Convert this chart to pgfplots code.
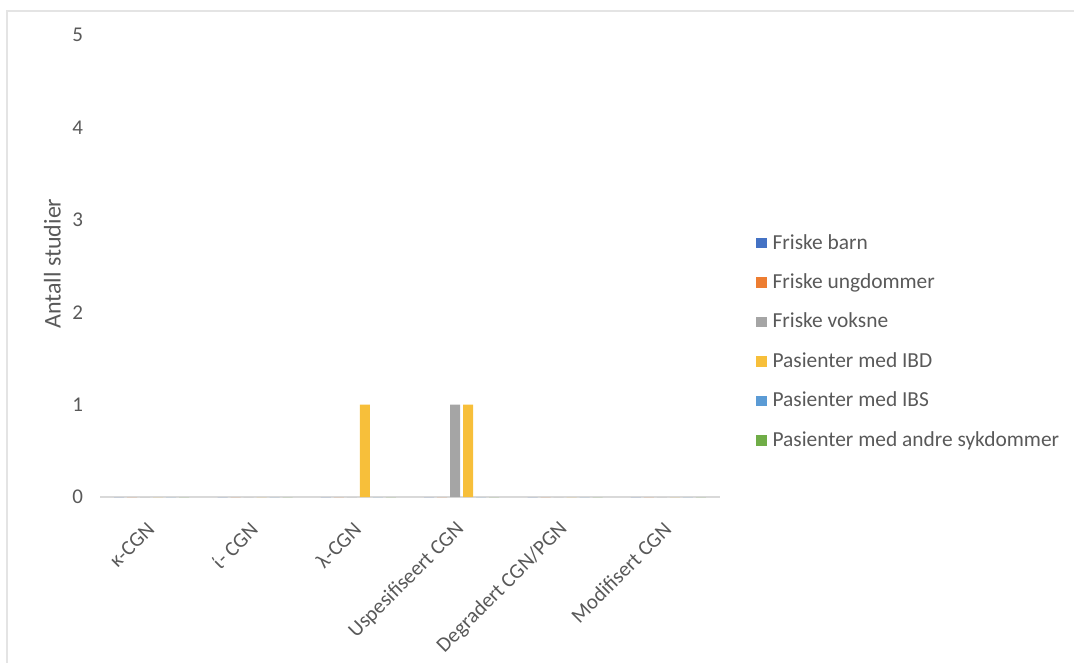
\documentclass[border=0pt]{standalone}
\usepackage{fontspec}
\setmainfont{Carlito}
\usepackage{pgfplots}
\pgfplotsset{compat=1.18}

\definecolor{txtgray}{HTML}{595959}
\definecolor{axgray}{HTML}{D9D9D9}
\definecolor{cBarn}{HTML}{4472C4}
\definecolor{cUngd}{HTML}{ED7D31}
\definecolor{cVoks}{HTML}{A5A5A5}
\definecolor{cIBD}{HTML}{F7BF3A}
\definecolor{cIBS}{HTML}{5B9BD5}
\definecolor{cAndre}{HTML}{70AD47}

\pgfplotsset{
  sqlegend/.style={legend image code/.code={\fill[##1] (0pt,-2.6pt) rectangle (5.2pt,2.6pt);}},
}

\begin{document}
\begin{tikzpicture}
\useasboundingbox (0,0) rectangle (537pt,331.5pt);
\draw[axgray!70, line width=0.6pt] (3.5pt,0) |- (537pt,326pt);
\begin{axis}[
  at={(50pt,83pt)}, anchor=south west,
  scale only axis, width=310pt, height=231pt,
  ymin=0, ymax=5, ytick={0,1,2,3,4,5},
  xmin=-0.5, xmax=5.5,
  xtick={0,1,2,3,4,5},
  xticklabels={κ-CGN, ί- CGN, λ-CGN, Uspesifiseert CGN, Degradert CGN/PGN, Modifisert CGN},
  ybar=1.5pt, bar width=5pt,
  axis y line*=left,
  y axis line style={draw=none},
  axis x line*=bottom,
  x axis line style={axgray, line width=0.8pt, -},
  major tick length=0pt,
  tick style={draw=none},
  /pgf/number format/assume math mode=true,
  tick label style={font=\fontsize{10.5}{12}\selectfont, text=txtgray},
  yticklabel style={xshift=-5pt},
  xticklabel style={rotate=45, anchor=east, font=\fontsize{10.5}{12}\selectfont, inner sep=0pt, yshift=-10pt, xshift=-10.4pt},
  ylabel={Antall studier},
  ylabel style={font=\fontsize{12}{14}\selectfont, text=txtgray, at={(axis description cs:-0.077,0.505)}, anchor=center},
  legend style={at={(1.048,0.587)}, anchor=north west, draw=none, fill=none,
    font=\fontsize{10.7}{12}\selectfont, text=txtgray, row sep=6.8pt,
    /tikz/every odd column/.append style={column sep=1pt}},
  legend cell align=left,
  clip=false,
]
\addplot[fill=cBarn, draw=none, sqlegend] coordinates {(0,0) (1,0) (2,0) (3,0) (4,0) (5,0)};
\addplot[fill=cUngd, draw=none, sqlegend] coordinates {(0,0) (1,0) (2,0) (3,0) (4,0) (5,0)};
\addplot[fill=cVoks, draw=none, sqlegend] coordinates {(0,0) (1,0) (2,0) (3,1) (4,0) (5,0)};
\addplot[fill=cIBD, draw=none, sqlegend] coordinates {(0,0) (1,0) (2,1) (3,1) (4,0) (5,0)};
\addplot[fill=cIBS, draw=none, sqlegend] coordinates {(0,0) (1,0) (2,0) (3,0) (4,0) (5,0)};
\addplot[fill=cAndre, draw=none, sqlegend] coordinates {(0,0) (1,0) (2,0) (3,0) (4,0) (5,0)};
\legend{Friske barn, Friske ungdommer, Friske voksne, Pasienter med IBD, Pasienter med IBS, Pasienter med andre sykdommer}
\end{axis}
\end{tikzpicture}
\end{document}
